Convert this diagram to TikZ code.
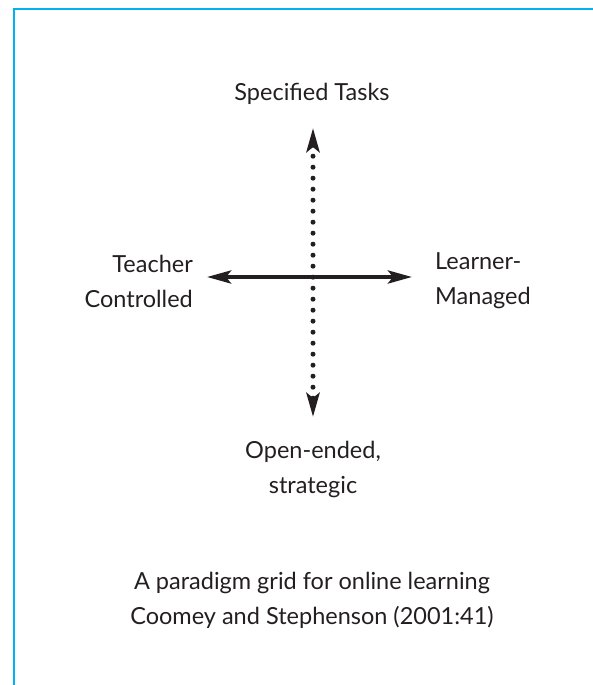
\documentclass[tikz,border=0pt]{standalone}
\usepackage{fontspec}
\setmainfont{Lato}
\usetikzlibrary{arrows.meta}
\definecolor{framecyan}{HTML}{00B0F0}
\definecolor{ink}{HTML}{231F20}
\tikzset{
  lbl/.style={font=\fontsize{23.5}{35}\selectfont, text=ink, inner sep=0pt, align=center},
  headtip/.style={Stealth[length=24pt,width=13pt,inset=5pt,line cap=butt,round=false]},
  solidarrow/.style={line width=4pt, ink, {Stealth[length=24pt,width=13pt,inset=5pt]}-{Stealth[length=24pt,width=13pt,inset=5pt]}},
  dotarrow/.style={line width=5pt, ink, line cap=round, dash pattern=on 0pt off 11pt, {Stealth[length=24pt,width=13pt,inset=5pt,line cap=butt]}-{Stealth[length=24pt,width=13pt,inset=5pt,line cap=butt]}}
}
\begin{document}
\begin{tikzpicture}[x=1pt,y=-1pt]
\useasboundingbox (0,0) rectangle (593,685);
\draw[framecyan, line width=2.5pt] (14,690) -- (14,9) -- (600,9);
\node[lbl] (top) at (312,94) {Specified Tasks};
\node[lbl, align=right, anchor=east] (left) at (193,281) {Teacher\\Controlled};
\node[lbl, align=left, anchor=west] (right) at (435,281) {Learner-\\Managed};
\node[lbl] (bottom) at (313,469) {Open-ended,\\strategic};
\node[lbl] (cap) at (312,600) {A paradigm grid for online learning\\Coomey and Stephenson (2001:41)};
\coordinate (vt) at (313,128);
\coordinate (vb) at (313,417);
\coordinate (hl) at (207,277);
\coordinate (hr) at (412,277);
\draw[dotarrow] (vt) -- (vb);
\draw[solidarrow] (hl) -- (hr);
\end{tikzpicture}
\end{document}
